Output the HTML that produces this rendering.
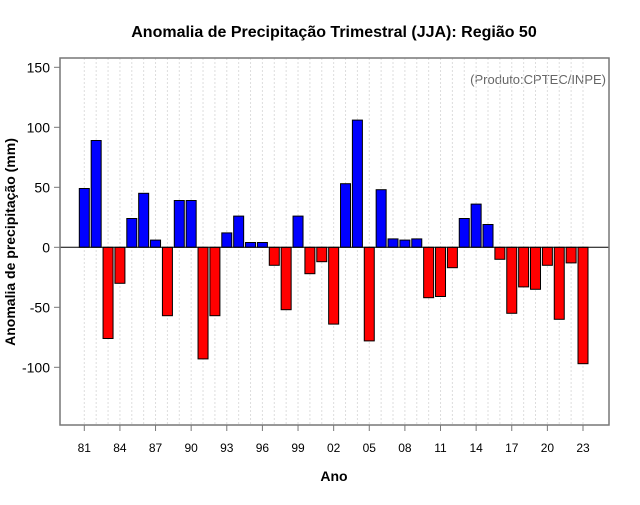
<!DOCTYPE html>
<html><head><meta charset="utf-8"><style>
body{margin:0;background:#fff;width:640px;height:500px;overflow:hidden}
text{font-family:"Liberation Sans",sans-serif}
</style></head><body>
<svg id="chart" width="640" height="500">
<text x="334" y="37" text-anchor="middle" font-size="16" font-weight="bold">Anomalia de Precipitação Trimestral (JJA): Região 50</text>
<text x="606" y="84" text-anchor="end" font-size="13" fill="#666">(Produto:CPTEC/INPE)</text>
<text x="334" y="481" text-anchor="middle" font-size="14" font-weight="bold">Ano</text>
<text transform="translate(15,242) rotate(-90)" text-anchor="middle" font-size="14" font-weight="bold">Anomalia de precipitação (mm)</text>
<g id="grid"></g><g id="bars"></g><g id="axes"></g>
</svg>
<script>
const years = [1981,1982,1983,1984,1985,1986,1987,1988,1989,1990,1991,1992,1993,1994,1995,1996,1997,1998,1999,2000,2001,2002,2003,2004,2005,2006,2007,2008,2009,2010,2011,2012,2013,2014,2015,2016,2017,2018,2019,2020,2021,2022,2023];
const anomalies = [49,89,-76,-30,24,45,6,-57,39,39,-93,-57,12,26,4,4,-15,-52,26,-22,-12,-64,53,106,-78,48,7,6,7,-42,-41,-17,24,36,19,-10,-55,-33,-35,-15,-60,-13,-97];
const yTicks = [-100,-50,0,50,100,150];
const xTickYears = [1981,1984,1987,1990,1993,1996,1999,2002,2005,2008,2011,2014,2017,2020,2023];

const NS="http://www.w3.org/2000/svg";
const L=60,R=609,T=58,B=425;
const step=(583-84.3)/42;
const xs=y=>84.3+(y-1981)*step;
const ys=v=>247.3-v*1.2;
function mk(tag,attrs,parent){const e=document.createElementNS(NS,tag);for(const k in attrs)e.setAttribute(k,attrs[k]);document.getElementById(parent).appendChild(e);return e;}
years.forEach(yr=>{
  const g=mk('line',{x1:xs(yr),x2:xs(yr),y1:T,y2:B,stroke:'#ddd','stroke-dasharray':'2,2'},'grid');
  
  
});
anomalies.forEach((v,i)=>{
  const x=xs(years[i]);const y0=ys(0),y1=ys(v);
  const r=mk('rect',{x:x-5,y:Math.min(y0,y1),width:10,height:Math.abs(y1-y0),fill:v>=0?'#0000ff':'#ff0000',stroke:'#000','stroke-width':1},'bars');
  
  
});
const z=mk('line',{x1:L,x2:R,y1:ys(0),y2:ys(0),stroke:'#000'},'axes');


const box=mk('rect',{x:L,y:T,width:R-L,height:B-T,fill:'none',stroke:'#777','stroke-width':1.5},'axes');


yTicks.forEach(v=>{
  mk('line',{x1:L-6,x2:L,y1:ys(v),y2:ys(v),stroke:'#777'},'axes');
  const t=mk('text',{x:L-10,y:ys(v)+5,'text-anchor':'end','font-size':14},'axes');
  t.textContent=v;
  
  
});
xTickYears.forEach(yr=>{
  mk('line',{x1:xs(yr),x2:xs(yr),y1:B,y2:B+6,stroke:'#777'},'axes');
  const t=mk('text',{x:xs(yr),y:452,'text-anchor':'middle','font-size':12},'axes');
  t.textContent=String(yr).slice(2);
  
  
});
</script>
</body></html>
